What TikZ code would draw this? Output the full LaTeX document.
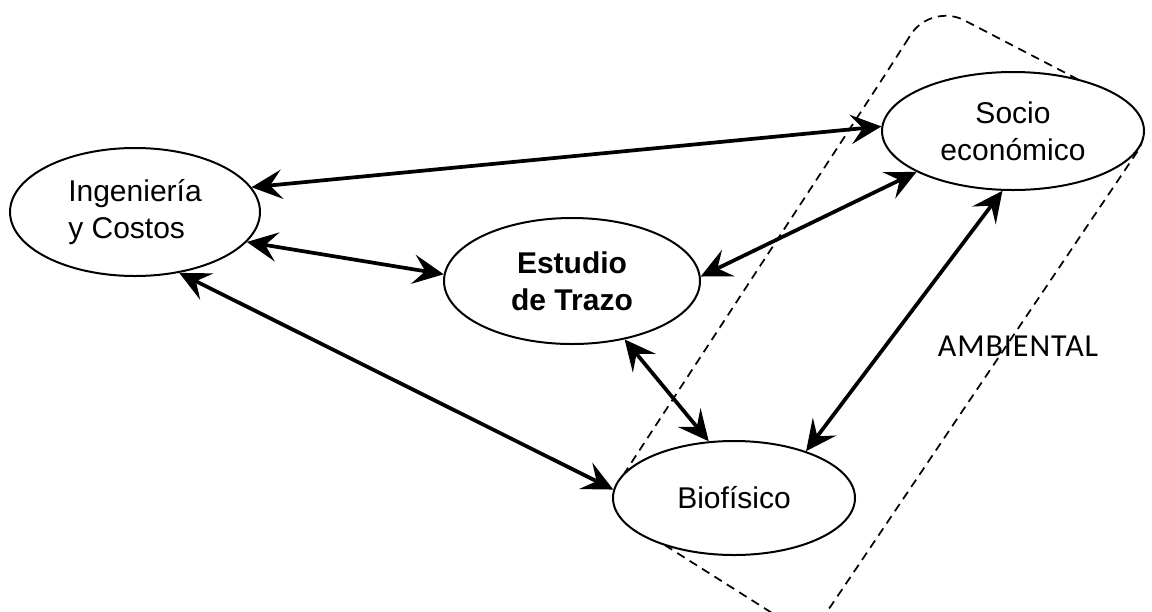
\documentclass[tikz,border=0pt]{standalone}
\usepackage{fontspec}
\setmainfont{Liberation Sans}
\newfontfamily\ambfont[LetterSpace=3]{Carlito}
\usetikzlibrary{arrows.meta}
\usetikzlibrary{shapes.geometric}

\begin{document}
\begin{tikzpicture}[x=0.75pt,y=0.75pt,yscale=-1,xscale=1,
  tema/.style={draw, ellipse, line width=1.5pt, fill=white, inner sep=0pt,
    font=\fontsize{22.5pt}{27.75pt}\selectfont},
  enlace/.style={{Stealth[length=23pt,width=22pt,inset=9pt]}-{Stealth[length=23pt,width=22pt,inset=9pt]}, line width=2.8pt},
  zona/.style={line width=1.3pt, dash pattern={on 6.5pt off 4.5pt}, rounded corners=28pt}]
%set diagram: 1152 x 611
\useasboundingbox (0,0) rectangle (1152,611);

%Shape: Rounded Rectangle (AMBIENTAL)
\draw [zona] (885,75) -- (931,3) -- (1158,121) -- (810,637) -- (603,506) -- cycle;

%Shape: Ellipse
\node [tema, minimum width=187.5pt, minimum height=96pt, align=left] (ing) at (135,212) {Ingeniería\\y Costos};
%Shape: Ellipse
\node [tema, minimum width=196.5pt, minimum height=88.5pt, align=center] (soc) at (1013,131) {Socio\\económico};
%Shape: Ellipse
\node [tema, minimum width=192pt, minimum height=94.5pt, align=center, font=\fontsize{22.5pt}{27.75pt}\selectfont\bfseries] (est) at (572,281) {Estudio\\de Trazo};
%Shape: Ellipse
\node [tema, minimum width=181.5pt, minimum height=85.5pt] (bio) at (734,498) {Biofísico};

%Straight Lines
\draw [enlace] (ing.12.7) -- (soc.178.7);
\draw [enlace] (ing.-15.1) -- (est.177.3);
\draw [enlace] (ing.-54) -- (bio.176.2);
\draw [enlace] (est.2.7) -- (soc.203.7);
\draw [enlace] (est.-48.7) -- (bio.114.9);
\draw [enlace] (soc.-100) -- (bio.33);

% Text Node
\node [font=\ambfont\fontsize{24pt}{28pt}\selectfont] (amb) at (1018,346) {AMBIENTAL};

\end{tikzpicture}
\end{document}
